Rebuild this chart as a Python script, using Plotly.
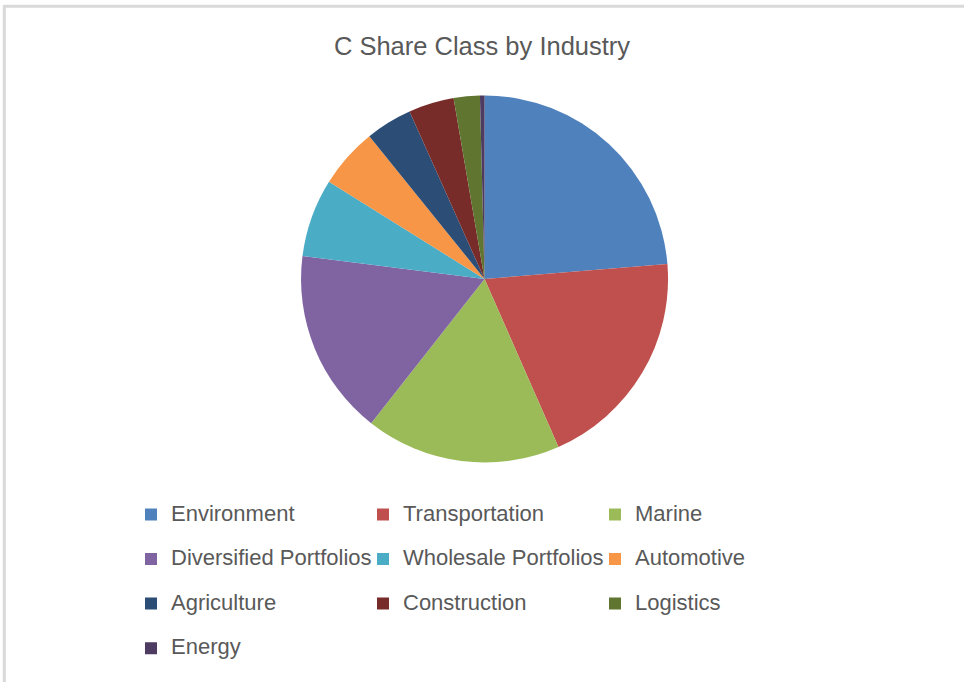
import plotly.graph_objects as go

# Share of C share class assets by industry (percent)
industries = [
    "Environment",
    "Transportation",
    "Marine",
    "Diversified Portfolios",
    "Wholesale Portfolios",
    "Automotive",
    "Agriculture",
    "Construction",
    "Logistics",
    "Energy",
]
shares = [23.7, 19.7, 17.2, 16.4, 6.9, 5.3, 4.1, 4.0, 2.3, 0.4]
slice_colors = [
    "#4F81BD", "#C0504D", "#9BBB59", "#8064A2", "#4BACC6",
    "#F79646", "#2C4D75", "#772C2A", "#5F7530", "#4D3B62",
]

TEXT_COLOR = "#595959"
FONT = "Liberation Sans, Arial, sans-serif"
W, H = 964, 682
ML, MR = 120, 120
PW = W - ML - MR

# legend entries: 22px text; all but the last get a blank second line
# so the legend rows are spaced out evenly
legend_labels = [
    f"<span style='font-size:22px'>{name}</span>"
    + ("<br>\u00a0" if i < len(industries) - 1 else "")
    for i, name in enumerate(industries)
]

fig = go.Figure(
    go.Pie(
        labels=legend_labels,
        values=shares,
        sort=False,
        direction="clockwise",
        rotation=0,
        marker=dict(colors=slice_colors, line=dict(width=0)),
        textinfo="none",
        hovertext=industries,
        hoverinfo="text+percent",
        domain=dict(x=[0.007, 1.0], y=[0.3219, 0.86]),
    )
)

# light frame along the top and left edges
fig.add_shape(type="line", xref="paper", yref="paper",
              x0=(4.3 - ML) / PW, x1=(W - ML) / PW,
              y0=(H - 6.3) / H, y1=(H - 6.3) / H,
              line=dict(color="#d9d9d9", width=3))
fig.add_shape(type="line", xref="paper", yref="paper",
              x0=(4.3 - ML) / PW, x1=(4.3 - ML) / PW,
              y0=0, y1=(H - 5) / H,
              line=dict(color="#d9d9d9", width=3))

fig.update_layout(
    width=W,
    height=H,
    margin=dict(l=ML, r=MR, t=0, b=0, autoexpand=False),
    paper_bgcolor="white",
    plot_bgcolor="white",
    font=dict(family=FONT, color=TEXT_COLOR),
    title=dict(
        text="C Share Class by Industry",
        x=0.5,
        xref="paper",
        y=1 - 37 / H,
        yref="container",
        yanchor="top",
        font=dict(family=FONT, size=25.5, color=TEXT_COLOR),
    ),
    showlegend=True,
    legend=dict(
        orientation="h",
        x=(131 - ML) / PW,
        y=(H - 497.5) / H,
        xanchor="left",
        yanchor="top",
        entrywidth=187,
        entrywidthmode="pixels",
        valign="top",
        font=dict(family=FONT, size=16, color=TEXT_COLOR),
        bgcolor="rgba(0,0,0,0)",
        traceorder="normal",
    ),
)

fig.write_html("out.html")
